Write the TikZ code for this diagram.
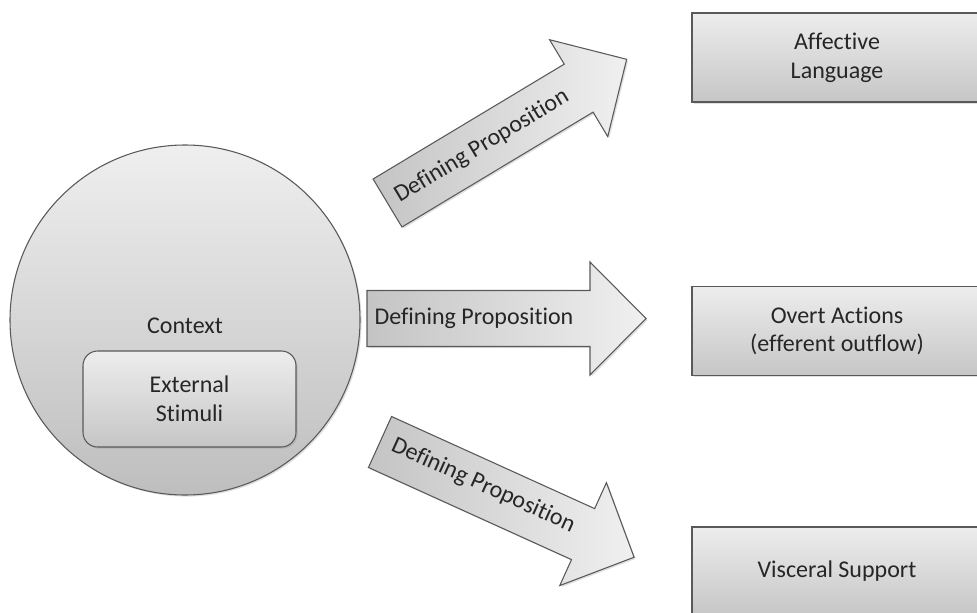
\documentclass[tikz,border=0pt]{standalone}
\usepackage{fontspec}
\setmainfont{Carlito}[Ligatures=NoCommon]
\usetikzlibrary{shadows}
\definecolor{txt}{HTML}{262626}
\definecolor{edge}{HTML}{595959}
\definecolor{boxtop}{HTML}{EDEDED}
\definecolor{boxbot}{HTML}{C6C6C6}
\definecolor{circtop}{HTML}{EFEFEF}
\definecolor{circbot}{HTML}{BEBEBE}
\definecolor{arrdark}{HTML}{C4C4C4}
\definecolor{arrlight}{HTML}{F0F0F0}
\begin{document}
\begin{tikzpicture}[x=0.75pt,y=0.75pt,
  font=\fontsize{18}{21.5}\selectfont, text=txt,
  shd/.style={drop shadow={opacity=0.25, shadow xshift=1.2pt, shadow yshift=-1.2pt}},
  boxstyle/.style={draw=edge, line width=0.8pt, top color=boxtop, bottom color=boxbot,
    minimum width=217.5pt, minimum height=66.75pt, inner sep=0pt, outer sep=0pt, align=center, shd},
  circstyle/.style={circle, draw=edge, line width=0.8pt, top color=circtop, bottom color=circbot,
    minimum size=262.5pt, inner sep=0pt, outer sep=0pt, shd},
  innerstyle/.style={draw=edge, line width=0.8pt, rounded corners=11pt, top color=boxtop, bottom color=boxbot,
    minimum width=159.75pt, minimum height=72pt, inner sep=0pt, align=center, shd},
  arrowstyle/.style={draw=edge, line width=0.8pt, left color=arrdark, right color=arrlight, shd},
  lbl/.style={inner sep=0pt}]
\useasboundingbox (0,0) rectangle (977,612);
\clip (0,0) rectangle (977,612);

% context circle
\node[circstyle] (ctx) at (185,292) {};
\node[lbl] (ctxlbl) at (185,286) {Context};
\node[innerstyle] (ext) at (189.5,213) {External\\Stimuli};

% middle arrow
\begin{scope}[shift={(367,293.5)}]
  \draw[arrowstyle] (0,-28) -- (223,-28) -- (223,-56.5) -- (279,0) -- (223,56.5) -- (223,28) -- (0,28) -- cycle;
  \node[lbl] (p2) at (107,0) {Defining Proposition};
\end{scope}

% top arrow
\begin{scope}[shift={(387.5,409)}, rotate=31]
  \draw[arrowstyle] (0,-28) -- (223,-28) -- (223,-56.5) -- (279,0) -- (223,56.5) -- (223,28) -- (0,28) -- cycle;
  \node[lbl, rotate=31] (p1) at (110,0) {Defining Proposition};
\end{scope}

% bottom arrow
\begin{scope}[shift={(380,170)}, rotate=-24.4]
  \draw[arrowstyle] (0,-28) -- (223,-28) -- (223,-56.5) -- (279,0) -- (223,56.5) -- (223,28) -- (0,28) -- cycle;
  \node[lbl, rotate=-24.4] (p3) at (112,3) {Defining Proposition};
\end{scope}

% target boxes
\node[boxstyle] (aff) at (837,554.5) {Affective\\Language};
\node[boxstyle] (ovt) at (837,281) {Overt Actions\\(efferent outflow)};
\node[boxstyle] (vis) at (837,40.5) {Visceral Support};
\end{tikzpicture}
\end{document}
